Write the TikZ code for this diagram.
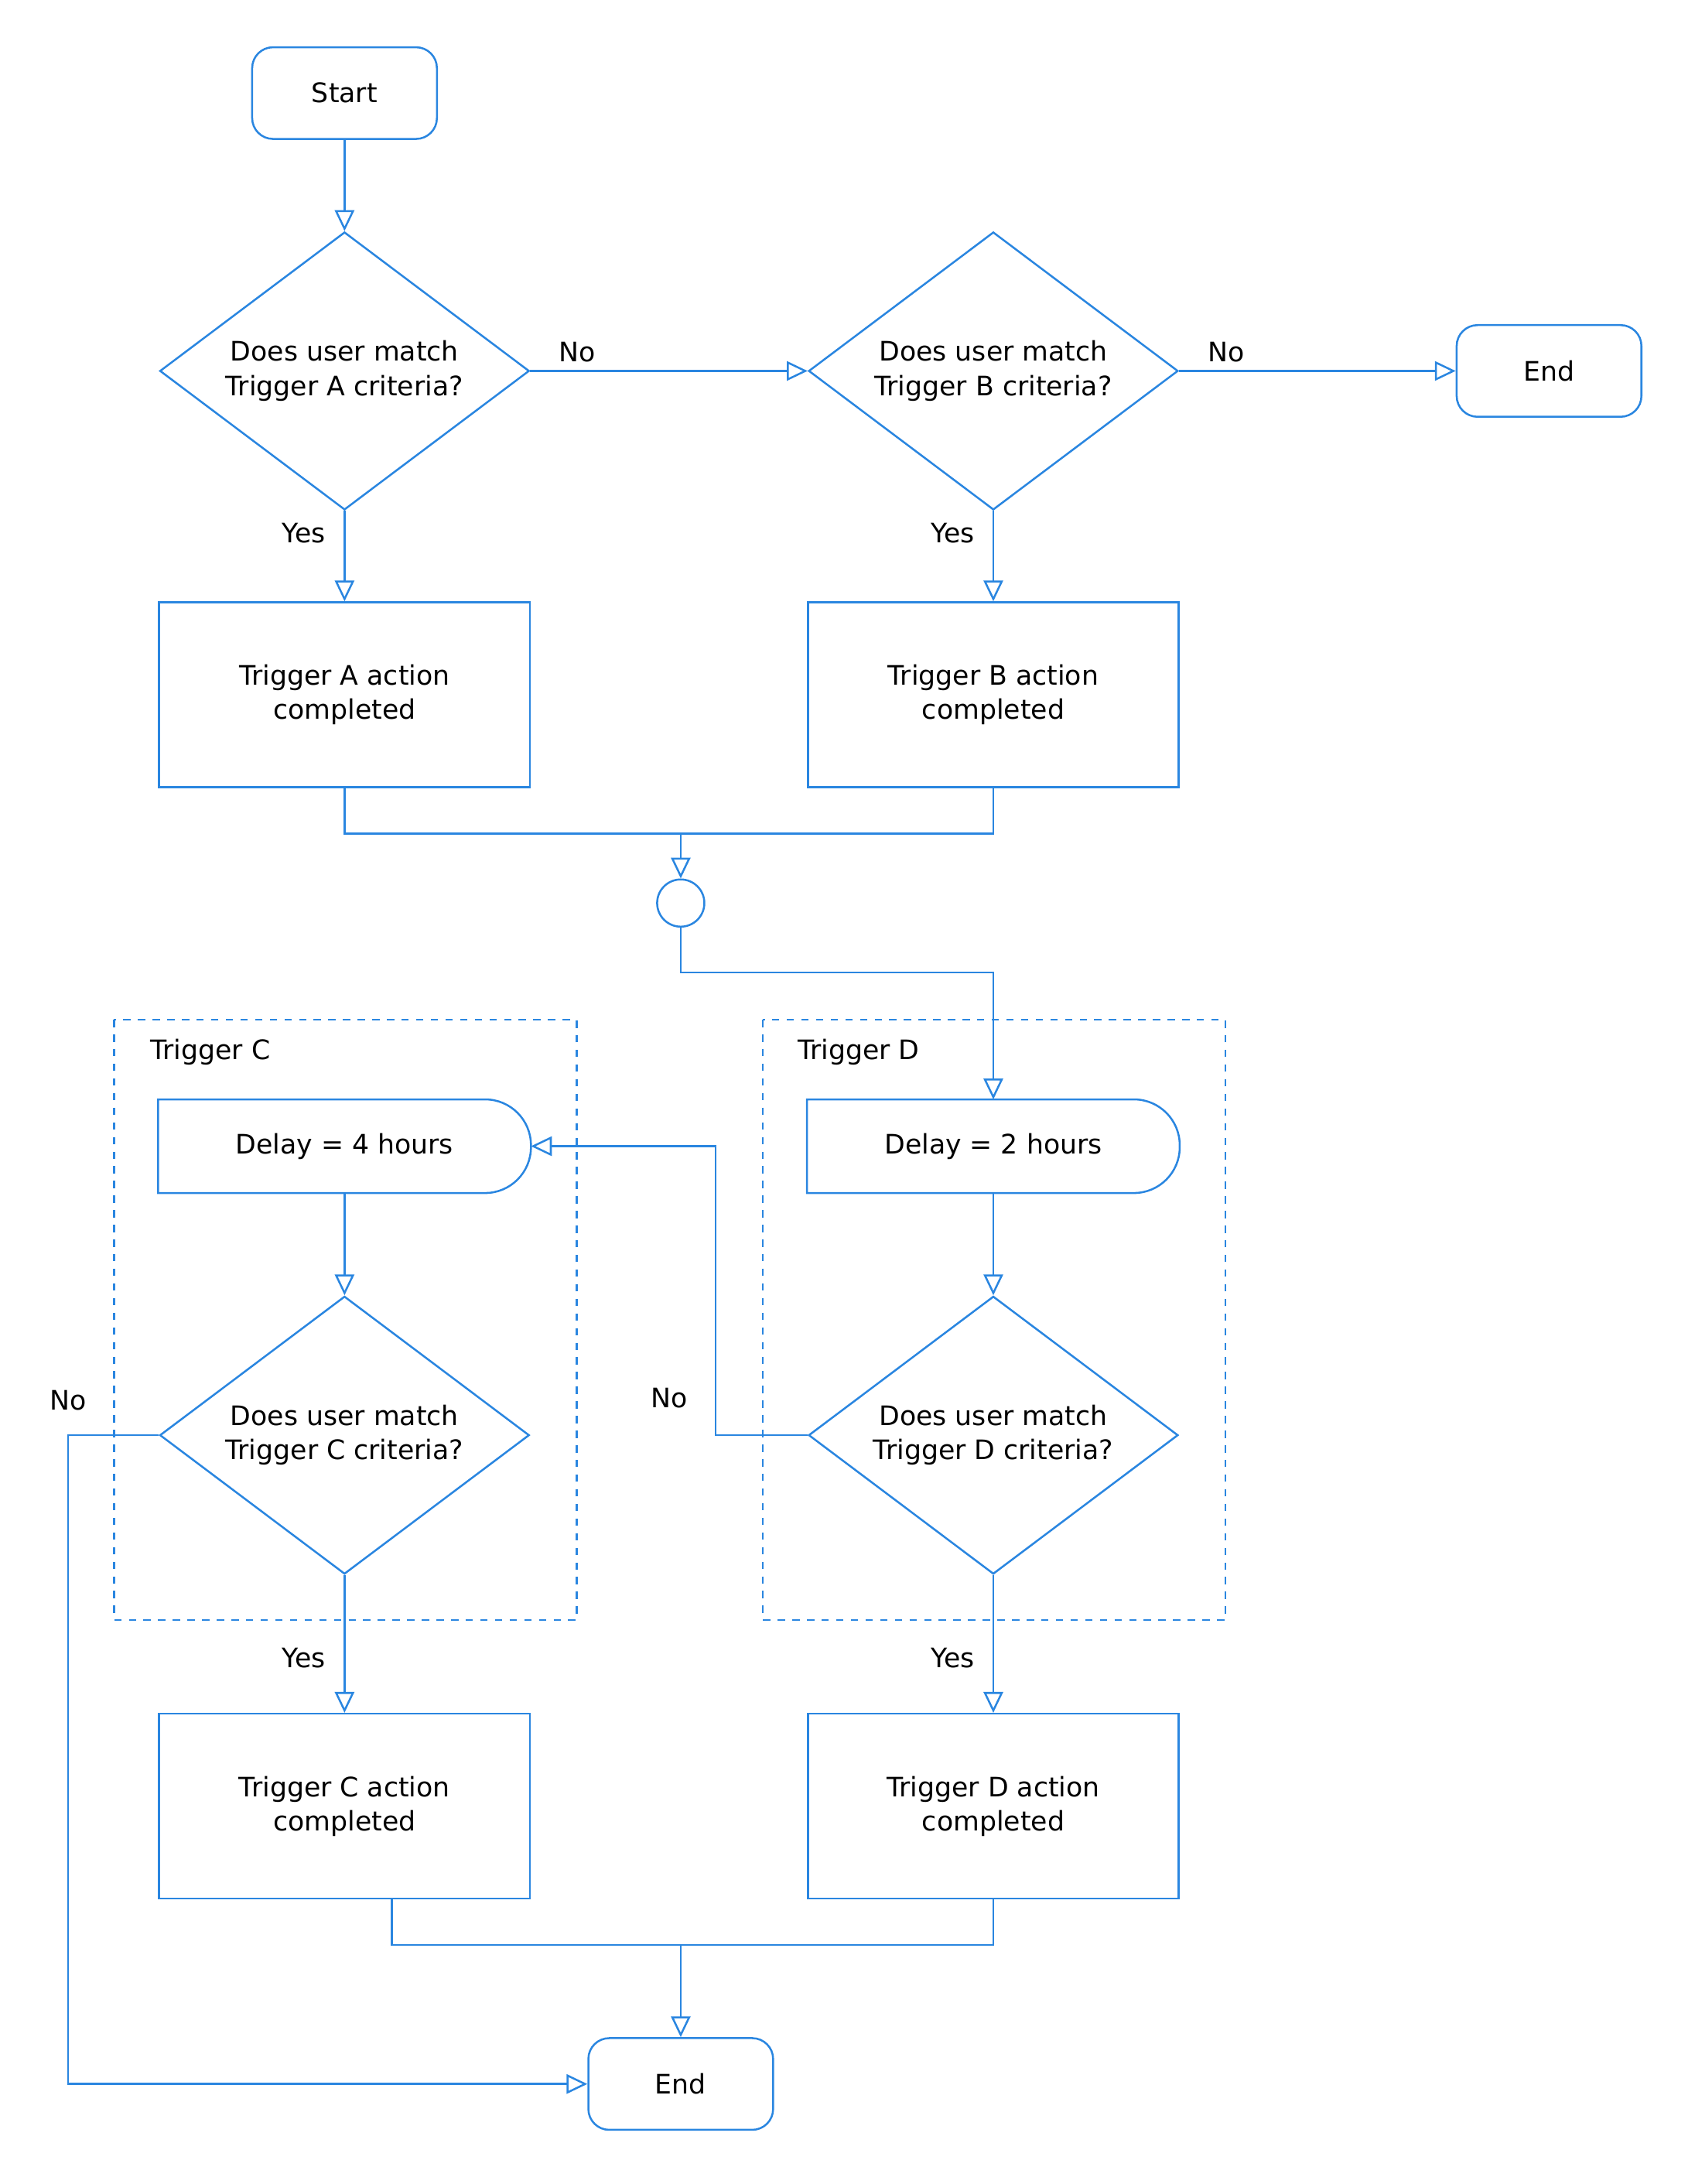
\documentclass[tikz,border=0pt]{standalone}
\usepackage{fontspec}
\setmainfont{DejaVu Sans}
\usetikzlibrary{arrows.meta,shapes.geometric}
\definecolor{flow}{HTML}{2A86E0}
\tikzset{
  base/.style={draw=flow, line width=0.8pt, align=center, font=\fontsize{11}{14}\selectfont},
  term/.style={base, rounded corners=0.3cm, minimum width=2.66cm, minimum height=1.32cm},
  box/.style={base, minimum width=5.34cm, minimum height=2.66cm},
  dec/.style={base, diamond, aspect=1.33, minimum width=5.32cm, minimum height=4cm, inner sep=0pt},
  delay/.style={base, draw=none, minimum width=5.34cm, minimum height=1.32cm},
  lbl/.style={font=\fontsize{11}{14}\selectfont},
  arr/.style={draw=flow, line width=0.8pt, -{Triangle[open,length=0.3cm,width=0.28cm]}},
  ln/.style={draw=flow, line width=0.8pt}
}
\begin{document}
\begin{tikzpicture}[x=0.02cm,y=-0.02cm]
  \useasboundingbox (0,0) rectangle (1220,1572);
  % top part
  \node[term] (start) at (248,67) {Start};
  \node[dec] (da) at (248,267) {Does user match\\Trigger A criteria?};
  \node[dec] (db) at (715,267) {Does user match\\Trigger B criteria?};
  \node[term] (end1) at (1115,267) {End};
  \node[box] (ba) at (248,500) {Trigger A action\\completed};
  \node[box] (bb) at (715,500) {Trigger B action\\completed};
  \node[draw=flow, line width=0.8pt, circle, minimum size=0.68cm, inner sep=0pt] (join) at (490,650) {};
  \coordinate (jab) at (490,600);
  % groups
  \draw[ln, dashed] (82,734) rectangle (415,1166);
  \draw[ln, dashed] (549,734) rectangle (882,1166);
  \node[lbl, anchor=west] (gc) at (102,757) {Trigger C};
  \node[lbl, anchor=west] (gd) at (568,757) {Trigger D};
  \node[delay] (dlc) at (248,825) {Delay = 4 hours};
  \node[delay] (dld) at (715,825) {Delay = 2 hours};
  \foreach \d in {dlc,dld}
    \draw[ln] (\d.south west) -- (\d.north west) [rounded corners=0.66cm] -- (\d.north east) -- (\d.south east) [sharp corners] -- cycle;
  \node[dec] (dc) at (248,1033) {Does user match\\Trigger C criteria?};
  \node[dec] (dd) at (715,1033) {Does user match\\Trigger D criteria?};
  \node[box] (bc) at (248,1300) {Trigger C action\\completed};
  \node[box] (bd) at (715,1300) {Trigger D action\\completed};
  \node[term] (end2) at (490,1500) {End};
  \coordinate (jcd) at (490,1400);
  \node[lbl] (nod) at (482,1006) {No};
  \node[lbl] (noc) at (49,1008) {No};

  % connectors
  \draw[arr] (start) -- (da);
  \draw[arr] (da) -- node[lbl, above, pos=0.17] {No} (db);
  \draw[arr] (db) -- node[lbl, above, pos=0.17] {No} (end1);
  \draw[arr] (da) -- node[lbl, pos=0.25, left=4pt] {Yes} (ba);
  \draw[arr] (db) -- node[lbl, pos=0.25, left=4pt] {Yes} (bb);
  \draw[ln] (ba.south) |- (jab) -| (bb.south);
  \draw[arr] (jab) -- (join);
  \draw[arr] (join.south) |- (715,700) -- (dld.north);
  \draw[arr] (dlc) -- (dc);
  \draw[arr] (dld) -- (dd);
  \draw[arr] (dd.west) -- (515,1033) |- (dlc.east);
  \draw[arr] (dc.west) -- (49,1033) |- (end2.west);
  \draw[arr] (dc) -- node[lbl, pos=0.6, left=4pt] {Yes} (bc);
  \draw[arr] (dd) -- node[lbl, pos=0.6, left=4pt] {Yes} (bd);
  \draw[ln] (282,1367) |- (jcd) -| (bd.south);
  \draw[arr] (jcd) -- (end2);
\end{tikzpicture}
\end{document}
